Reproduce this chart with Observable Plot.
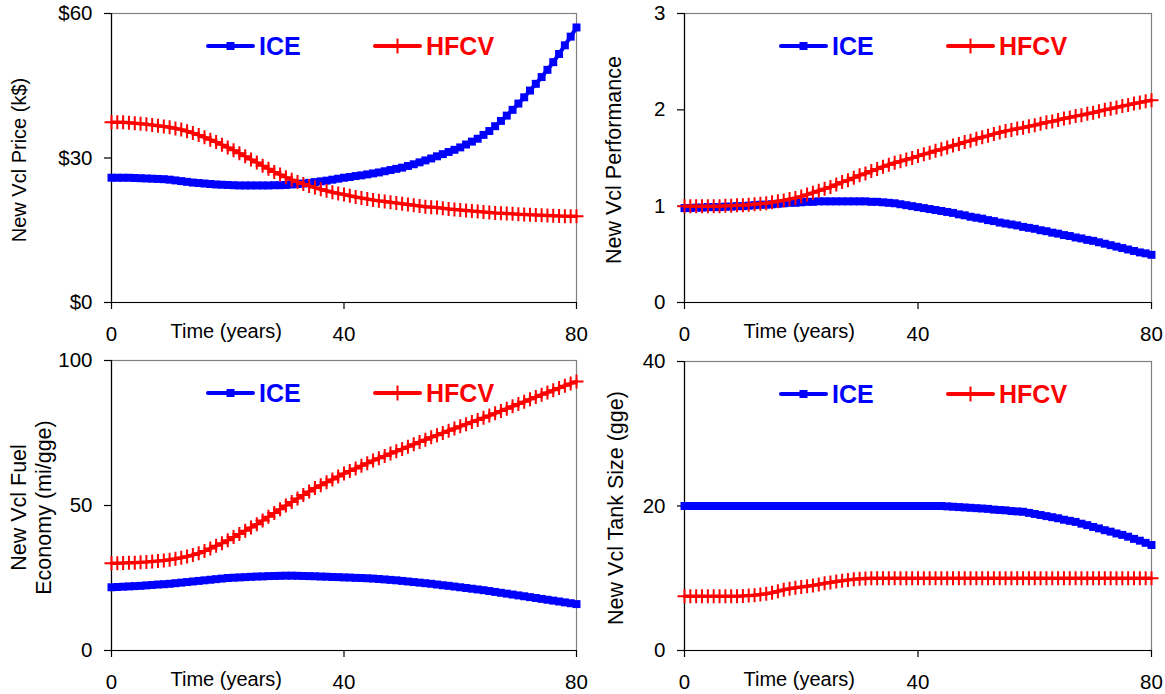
<!DOCTYPE html>
<html><head><meta charset="utf-8">
<script src="https://cdn.jsdelivr.net/npm/d3@7"></script>
<script src="https://cdn.jsdelivr.net/npm/@observablehq/plot@0.6"></script>
<style>
html,body{margin:0;padding:0;background:#fff;}
#chart{position:relative;width:1165px;height:694px;overflow:hidden;font-family:"Liberation Sans",Arial,sans-serif;}
#chart svg{position:absolute;overflow:visible;}
</style></head><body><div id="chart"></div>
<script>
const years = [0,1,2,3,4,5,6,7,8,9,10,11,12,13,14,15,16,17,18,19,20,21,22,23,24,25,26,27,28,29,30,31,32,33,34,35,36,37,38,39,40,41,42,43,44,45,46,47,48,49,50,51,52,53,54,55,56,57,58,59,60,61,62,63,64,65,66,67,68,69,70,71,72,73,74,75,76,77,78,79,80];
const xTicks = [0, 40, 80];
const xTickLabels = ["0", "40", "80"];
const xLabel = "Time (years)";
const seriesNames = ["ICE", "HFCV"];
const seriesColors = ["#0000ff", "#ff0000"];

const priceTicks = [0, 30, 60];
const priceTickLabels = ["$0", "$30", "$60"];
const perfTicks = [0, 1, 2, 3];
const perfTickLabels = ["0", "1", "2", "3"];
const fuelTicks = [0, 50, 100];
const fuelTickLabels = ["0", "50", "100"];
const tankTicks = [0, 20, 40];
const tankTickLabels = ["0", "20", "40"];

const icePrice = [25.9,25.9,25.9,25.9,25.85,25.8,25.75,25.7,25.65,25.6,
 25.5,25.35,25.2,25.05,24.9,24.8,24.7,24.6,24.5,24.45,
 24.4,24.35,24.3,24.3,24.3,24.3,24.3,24.3,24.35,24.35,
 24.4,24.5,24.6,24.7,24.85,25.0,25.15,25.3,25.5,25.7,
 25.9,26.05,26.25,26.4,26.6,26.8,27.0,27.25,27.5,27.75,
 28.0,28.35,28.7,29.1,29.5,29.9,30.35,30.8,31.25,31.7,
 32.2,32.8,33.4,34.0,34.8,35.6,36.6,37.7,38.8,40.0,
 41.3,42.6,44.0,45.4,46.8,48.3,49.9,51.6,53.4,55.2,
 57.1];
const hfcvPrice = [37.4,37.4,37.4,37.3,37.2,37.1,37.0,36.85,36.7,36.55,
 36.4,36.15,35.9,35.55,35.2,34.75,34.3,33.8,33.3,32.75,
 32.2,31.6,31.0,30.35,29.7,29.05,28.4,27.75,27.1,26.55,
 26.0,25.5,25.0,24.6,24.2,23.85,23.5,23.2,22.9,22.65,
 22.4,22.15,21.9,21.7,21.5,21.3,21.1,20.95,20.8,20.65,
 20.5,20.35,20.2,20.05,19.9,19.8,19.7,19.55,19.4,19.3,
 19.2,19.1,19.0,18.9,18.8,18.7,18.6,18.55,18.5,18.4,
 18.3,18.25,18.2,18.15,18.1,18.05,18.0,17.95,17.9,17.9,
 17.9];
const icePerf = [0.98,0.98,0.985,0.985,0.99,0.99,0.99,0.995,0.995,1.0,
 1.0,1.005,1.01,1.015,1.015,1.02,1.025,1.03,1.035,1.035,
 1.04,1.045,1.045,1.05,1.05,1.05,1.05,1.05,1.05,1.05,
 1.05,1.05,1.045,1.045,1.04,1.035,1.03,1.02,1.01,1.0,
 0.99,0.98,0.97,0.96,0.95,0.94,0.93,0.915,0.905,0.89,
 0.88,0.87,0.855,0.845,0.83,0.82,0.81,0.8,0.785,0.775,
 0.765,0.75,0.74,0.725,0.715,0.7,0.69,0.675,0.665,0.65,
 0.64,0.625,0.61,0.595,0.58,0.565,0.55,0.535,0.52,0.51,
 0.495];
const hfcvPerf = [1.0,1.0,1.0,1.0,1.0,1.0,1.0,1.005,1.005,1.01,
 1.01,1.015,1.02,1.025,1.03,1.04,1.05,1.06,1.075,1.085,
 1.1,1.12,1.14,1.16,1.18,1.2,1.225,1.25,1.27,1.295,
 1.32,1.34,1.365,1.385,1.41,1.43,1.45,1.465,1.485,1.5,
 1.52,1.54,1.555,1.575,1.59,1.61,1.63,1.645,1.665,1.68,
 1.7,1.715,1.73,1.75,1.765,1.78,1.79,1.805,1.815,1.83,
 1.84,1.855,1.87,1.88,1.895,1.91,1.92,1.935,1.945,1.96,
 1.97,1.985,2.0,2.01,2.025,2.04,2.05,2.065,2.075,2.09,
 2.1];
const iceFuel = [21.8,21.9,22.0,22.1,22.2,22.3,22.45,22.6,22.75,22.85,
 23.0,23.2,23.4,23.6,23.8,24.0,24.2,24.4,24.6,24.8,
 25.0,25.1,25.2,25.3,25.4,25.5,25.55,25.65,25.7,25.75,
 25.8,25.8,25.75,25.7,25.65,25.6,25.5,25.45,25.35,25.3,
 25.2,25.15,25.05,25.0,24.9,24.8,24.65,24.5,24.35,24.2,
 24.0,23.8,23.6,23.4,23.2,23.0,22.75,22.5,22.3,22.05,
 21.8,21.55,21.3,21.05,20.8,20.5,20.2,19.9,19.6,19.3,
 19.0,18.7,18.4,18.1,17.8,17.5,17.2,16.9,16.6,16.3,
 16.0];
const hfcvFuel = [30.1,30.1,30.2,30.25,30.3,30.4,30.5,30.65,30.85,31.05,
 31.3,31.65,32.0,32.45,32.95,33.5,34.3,35.2,36.1,37.0,
 38.0,39.1,40.2,41.3,42.4,43.5,44.8,46.1,47.4,48.7,
 50.0,51.2,52.4,53.6,54.8,56.0,57.0,58.0,59.0,60.0,
 61.0,61.9,62.8,63.7,64.6,65.5,66.3,67.1,67.9,68.7,
 69.5,70.3,71.1,71.9,72.7,73.5,74.25,75.0,75.8,76.55,
 77.3,78.05,78.8,79.5,80.25,81.0,81.8,82.6,83.4,84.2,
 85.0,85.8,86.6,87.4,88.2,89.0,89.75,90.5,91.3,92.05,
 92.8];
const iceTank = [20,20,20,20,20,20,20,20,20,20,
 20,20,20,20,20,20,20,20,20,20,
 20,20,20,20,20,20,20,20,20,20,
 20,20,20,20,20,20,20,20,20,20,
 20,20,20,20,20,19.95,19.9,19.85,19.8,19.75,
 19.7,19.65,19.6,19.5,19.45,19.4,19.3,19.25,19.2,19.05,
 18.9,18.75,18.6,18.45,18.3,18.1,17.95,17.8,17.55,17.35,
 17.1,16.9,16.65,16.45,16.2,16.0,15.75,15.45,15.2,14.9,
 14.6];
const hfcvTank = [7.5,7.5,7.5,7.5,7.5,7.5,7.5,7.5,7.5,7.5,
 7.55,7.6,7.65,7.75,7.85,8.0,8.2,8.4,8.55,8.7,
 8.8,8.9,9.0,9.15,9.3,9.4,9.55,9.65,9.75,9.85,
 9.92,9.97,10,10,10,10,10,10,10,10,
 10,10,10,10,10,10,10,10,10,10,
 10,10,10,10,10,10,10,10,10,10,
 10,10,10,10,10,10,10,10,10,10,
 10,10,10,10,10,10,10,10,10,10,
 10];

const FONT = "'Liberation Sans', Arial, sans-serif";

const plusSymbol = {
  draw(context, size) {
    const r = Math.sqrt(size / Math.PI);
    context.moveTo(-r, 0); context.lineTo(r, 0);
    context.moveTo(0, -r); context.lineTo(0, r);
  }
};

function legendMark(index, scales, values, dim) {
  const g = d3.create("svg:g");
  const L = dim.marginLeft, T = dim.marginTop;
  const cy = T + 33;
  const offs = [97, 264];
  seriesNames.forEach((name, i) => {
    const x0 = L + offs[i];
    g.append("line").attr("x1", x0).attr("x2", x0 + 45).attr("y1", cy).attr("y2", cy)
      .attr("stroke", seriesColors[i]).attr("stroke-width", 4).attr("stroke-linecap", "round");
    if (i === 0) {
      g.append("rect").attr("x", x0 + 22.5 - 4).attr("y", cy - 4).attr("width", 8).attr("height", 8).attr("fill", seriesColors[i]);
    } else {
      g.append("path").attr("d", `M${x0 + 22.5},${cy - 7.5}V${cy + 7.5}`)
        .attr("stroke", seriesColors[i]).attr("stroke-width", 2).attr("fill", "none");
    }
    g.append("text").attr("x", x0 + 51).attr("y", cy + 9).attr("fill", seriesColors[i])
      .attr("text-anchor", "start")
      .attr("font-weight", "bold").attr("font-size", 25).attr("font-family", FONT).text(name);
  });
  return g.node();
}

const panels = [
  {left: 0, top: 0, width: 583, height: 347, mL: 111, mR: 7, mT: 13, mB: 45,
   yDomain: [0, 60], yTicks: priceTicks, yTickLabels: priceTickLabels,
   label: "New Vcl Price (k$)", labelDx: -93, labelSize: 20, ice: icePrice, hfcv: hfcvPrice},
  {left: 583, top: 0, width: 582, height: 347, mL: 101, mR: 14, mT: 13, mB: 45,
   yDomain: [0, 3], yTicks: perfTicks, yTickLabels: perfTickLabels,
   label: "New Vcl Performance", labelDx: -71, labelSize: 21.5, ice: icePerf, hfcv: hfcvPerf},
  {left: 0, top: 347, width: 583, height: 347, mL: 111, mR: 7, mT: 13, mB: 44,
   yDomain: [0, 100], yTicks: fuelTicks, yTickLabels: fuelTickLabels,
   label: "New Vcl Fuel\nEconomy (mi/gge)", labelDx: -81, labelSize: 21.5, ice: iceFuel, hfcv: hfcvFuel},
  {left: 583, top: 347, width: 582, height: 347, mL: 101, mR: 14, mT: 14, mB: 44,
   yDomain: [0, 40], yTicks: tankTicks, yTickLabels: tankTickLabels,
   label: "New Vcl Tank Size (gge)", labelDx: -69, labelSize: 21.5, ice: iceTank, hfcv: hfcvTank}
];

const container = document.getElementById("chart");

panels.forEach(p => {
  const data = years.map((t, i) => ({t, ice: p.ice[i], hfcv: p.hfcv[i]}));
  const svg = Plot.plot({
    width: p.width, height: p.height,
    marginLeft: p.mL, marginRight: p.mR, marginTop: p.mT, marginBottom: p.mB,
    style: {fontFamily: FONT, fontSize: "20px", color: "#000", background: "transparent", overflow: "visible"},
    x: {domain: [0, 80]},
    y: {domain: p.yDomain},
    marks: [
      Plot.frame({stroke: "#808080", strokeWidth: 1.2}),
      Plot.ruleX([0], {stroke: "#000", strokeWidth: 1.2}),
      Plot.ruleY([p.yDomain[0]], {stroke: "#000", strokeWidth: 1.2}),
      Plot.axisX({ticks: xTicks, tickSize: 7, tickPadding: 17, label: null,
        tickFormat: d => xTickLabels[xTicks.indexOf(d)], fontSize: 20.5, strokeWidth: 1.2}),
      Plot.axisY({ticks: p.yTicks, tickSize: 7, tickPadding: 12, label: null,
        tickFormat: d => p.yTickLabels[p.yTicks.indexOf(d)], fontSize: 20.5, strokeWidth: 1.2}),
      Plot.line(data, {x: "t", y: "ice", stroke: seriesColors[0], strokeWidth: 4}),
      Plot.dot(data, {x: "t", y: "ice", symbol: "square", r: 4.5, fill: seriesColors[0], stroke: "none"}),
      Plot.line(data, {x: "t", y: "hfcv", stroke: seriesColors[1], strokeWidth: 3.5}),
      Plot.dot(data, {x: "t", y: "hfcv", symbol: plusSymbol, r: 7, fill: "none", stroke: seriesColors[1], strokeWidth: 2}),
      Plot.text([xLabel], {text: d => d, frameAnchor: "bottom-left", textAnchor: "start", lineAnchor: "bottom",
        dx: 59, dy: 35, fontSize: 20, fill: "#000"}),
      Plot.text([p.label], {text: d => d, frameAnchor: "left", rotate: -90, lineAnchor: "middle", textAnchor: "middle",
        dx: p.labelDx, dy: 2, fontSize: p.labelSize, lineHeight: 1.16, fill: "#000"}),
      legendMark
    ]
  });
  svg.style.left = p.left + "px";
  svg.style.top = p.top + "px";
  container.appendChild(svg);
});
</script></body></html>
